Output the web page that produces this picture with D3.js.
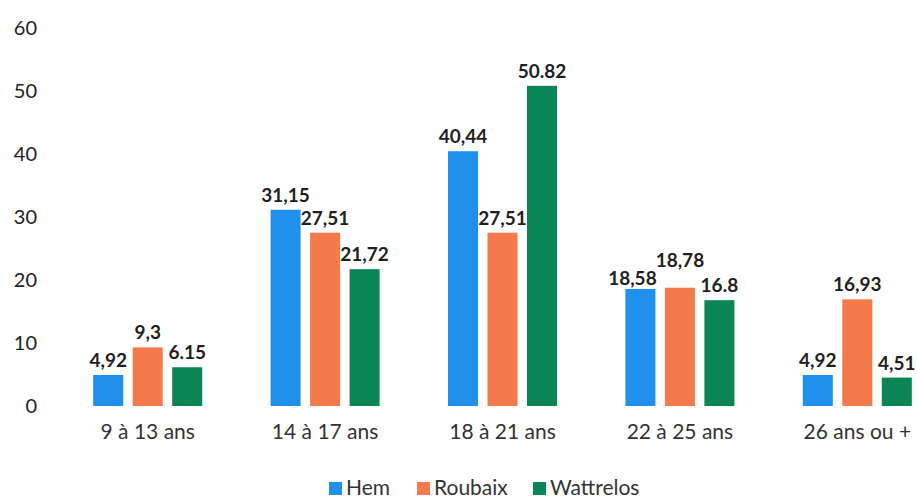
<!DOCTYPE html>
<html>
<head>
<meta charset="utf-8">
<script src="https://cdn.jsdelivr.net/npm/d3@7"></script>
<style>
  html, body { margin: 0; padding: 0; background: #ffffff; }
  svg { display: block; }
  text { font-family: Lato, "Open Sans", sans-serif; }
</style>
</head>
<body>
<svg id="chart" width="917" height="501"></svg>
<script>
// Age groups along the x axis
const categories = ["9 à 13 ans", "14 à 17 ans", "18 à 21 ans", "22 à 25 ans", "26 ans ou +"];
// One series per town
const seriesNames = ["Hem", "Roubaix", "Wattrelos"];
const hemValues = [4.92, 31.15, 40.44, 18.58, 4.92];
const roubaixValues = [9.3, 27.51, 27.51, 18.78, 16.93];
const wattrelosValues = [6.15, 21.72, 50.82, 16.8, 4.51];
// Value labels as written on the chart
const hemLabels = ["4,92", "31,15", "40,44", "18,58", "4,92"];
const roubaixLabels = ["9,3", "27,51", "27,51", "18,78", "16,93"];
const wattrelosLabels = ["6.15", "21,72", "50.82", "16.8", "4,51"];
const yTicks = [0, 10, 20, 30, 40, 50, 60];

const colors = { Hem: "#2190ec", Roubaix: "#f47a4b", Wattrelos: "#0b8456" };

const valuesBySeries = { Hem: hemValues, Roubaix: roubaixValues, Wattrelos: wattrelosValues };
const labelsBySeries = { Hem: hemLabels, Roubaix: roubaixLabels, Wattrelos: wattrelosLabels };

const rows = categories.map((c, i) => ({
  category: c,
  items: seriesNames.map(s => ({ series: s, value: valuesBySeries[s][i], label: labelsBySeries[s][i] }))
}));

const svg = d3.select("#chart");

const x0 = d3.scaleBand().domain(categories).range([59, 946]).paddingInner(0).paddingOuter(0);
const x1 = d3.scaleBand().domain(seriesNames).range([-59.25, 59.25]).paddingInner(0.24).paddingOuter(0.12);
const y = d3.scaleLinear().domain([0, 60]).range([406, 28]);

// Y axis: labels only, no line or ticks
const yAxis = svg.append("g")
  .attr("transform", "translate(37,0)")
  .call(d3.axisLeft(y).tickValues(yTicks).tickSize(0).tickPadding(0).tickFormat(d3.format("d")));
yAxis.select(".domain").remove();
yAxis.selectAll("text")
  .attr("font-family", "Lato, 'Open Sans', sans-serif")
  .attr("font-size", 20)
  .attr("fill", "#222")
  .attr("dy", "0.3em");

// Bars
const groups = svg.append("g").selectAll("g")
  .data(rows)
  .join("g")
  .attr("transform", d => `translate(${x0(d.category) + x0.bandwidth() / 2},0)`);

groups.selectAll("rect")
  .data(d => d.items)
  .join("rect")
  .attr("x", d => x1(d.series))
  .attr("width", x1.bandwidth())
  .attr("y", d => y(d.value))
  .attr("height", d => y(0) - y(d.value))
  .attr("fill", d => colors[d.series]);

// Value labels above each bar
groups.each(function () {
  const g = d3.select(this);
  const labels = g.selectAll("text.value")
    .data(d => d.items)
    .join("text")
    .attr("class", "value")
    .attr("x", d => x1(d.series) + x1.bandwidth() / 2)
    .attr("y", d => y(d.value) - 8)
    .attr("text-anchor", "middle")
    .attr("font-size", 19)
    .attr("font-weight", 700)
    .attr("fill", "#1f1f1f")
    .text(d => d.label);

  // Lift a label that would collide with its left neighbour
  const nodes = labels.nodes();
  for (let i = 1; i < nodes.length; i++) {
    const prev = nodes[i - 1].getBBox();
    const cur = nodes[i].getBBox();
    const hOverlap = cur.x < prev.x + prev.width - 2 && prev.x < cur.x + cur.width;
    const vOverlap = cur.y < prev.y + prev.height - 4 && prev.y < cur.y + cur.height - 4;
    if (hOverlap && vOverlap) {
      const yNow = +d3.select(nodes[i]).attr("y");
      d3.select(nodes[i]).attr("y", yNow - 13);
      d3.select(nodes[i - 1]).attr("x", +d3.select(nodes[i - 1]).attr("x") - 8)
        .attr("y", +d3.select(nodes[i - 1]).attr("y") + 4);
    }
  }
});

// Category axis labels
const xAxis = svg.append("g")
  .attr("transform", `translate(0,${y(0)})`)
  .call(d3.axisBottom(x0).tickSize(0).tickPadding(0));
xAxis.select(".domain").remove();
xAxis.selectAll("text")
  .attr("font-family", "Lato, 'Open Sans', sans-serif")
  .attr("font-size", 21)
  .attr("fill", "#333")
  .attr("dy", "1.55em");

// Legend
const legendOffsets = { Hem: 0, Roubaix: 88, Wattrelos: 204 };
const legend = svg.append("g").selectAll("g")
  .data(seriesNames)
  .join("g")
  .attr("transform", d => `translate(${329 + legendOffsets[d]},486)`);
legend.append("rect")
  .attr("x", 0).attr("y", -4)
  .attr("width", 13).attr("height", 13)
  .attr("fill", d => colors[d]);
legend.append("text")
  .attr("x", 17).attr("y", 2).attr("dy", "0.35em")
  .attr("font-size", 21)
  .attr("fill", "#333")
  .text(d => d);
</script>
</body>
</html>
